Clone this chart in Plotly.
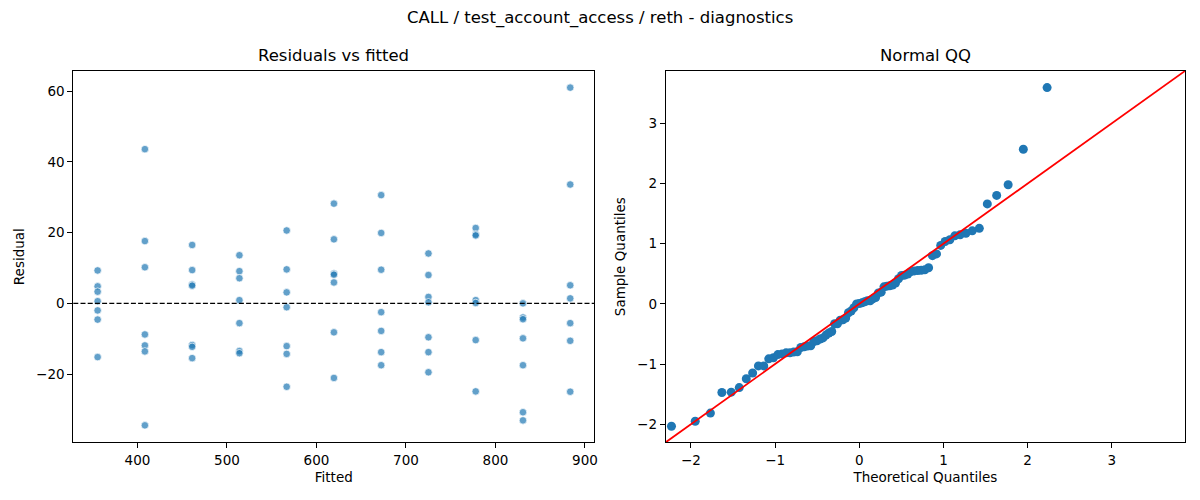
import plotly.graph_objects as go
from statistics import NormalDist
import math

# ---- data ----
fitted_levels = [355.5, 408.3, 461.1, 513.9, 566.7, 619.5, 672.3, 725.1, 777.9, 830.7, 883.5]
group_size = 7
residuals = [
    9.3, 4.8, 3.3, 0.6, -2.0, -4.6, -15.2,
    43.6, 17.6, 10.2, -8.8, -11.9, -13.6, -34.5,
    16.5, 9.4, 5.3, 5.0, -11.8, -12.3, -15.5,
    13.6, 9.1, 7.1, 0.9, -5.6, -13.5, -14.1,
    20.6, 9.6, 3.1, -1.1, -12.1, -14.3, -23.6,
    28.2, 18.1, 8.4, 8.1, 5.9, -8.2, -21.1,
    30.6, 19.9, 9.5, -2.5, -7.8, -13.8, -17.5,
    14.1, 8.0, 1.8, 0.3, -9.6, -13.8, -19.5,
    21.3, 19.5, 19.2, 0.9, 0.1, -10.4, -24.9,
    0.0, -4.0, -4.5, -9.9, -17.5, -30.8, -33.1,
    61.0, 33.6, 5.1, 1.4, -5.6, -10.6, -25.0,
]
left_xticks = [400, 500, 600, 700, 800, 900]
left_yticks = [-20, 0, 20, 40, 60]
qq_ticks = [-2, -1, 0, 1, 2, 3]
qq_range = [-2.30, 3.87]

fitted = [f for f in fitted_levels for _ in range(group_size)]

# ---- normal QQ (standardized residuals vs normal quantiles) ----
n = len(residuals)
mean = sum(residuals) / n
sd = math.sqrt(sum((r - mean) ** 2 for r in residuals) / n)
sample_q = sorted((r - mean) / sd for r in residuals)
nd = NormalDist()
theo_q = [nd.inv_cdf(i / (n + 1)) for i in range(1, n + 1)]

FONT = "DejaVu Sans"
blue = "#1f77b4"

# page body has an 8px margin; lay out in window pixels
OFF = 8
W, H = 1200 - OFF, 500 - OFF


def px(p):
    return (p - OFF) / W


def py(p):
    return 1 - (p - OFF) / H


fig = go.Figure()
fig.add_trace(go.Scatter(
    x=fitted, y=residuals, mode="markers", xaxis="x", yaxis="y",
    marker=dict(size=7.5, color="rgba(31,119,180,0.7)",
                line=dict(color="white", width=0.7)),
    showlegend=False, hoverinfo="x+y"))
fig.add_trace(go.Scatter(
    x=theo_q, y=sample_q, mode="markers", xaxis="x2", yaxis="y2",
    marker=dict(size=9, color=blue, line=dict(width=0)),
    showlegend=False))
fig.add_trace(go.Scatter(
    x=qq_range, y=qq_range, mode="lines", xaxis="x2", yaxis="y2",
    line=dict(color="red", width=1.8), showlegend=False, hoverinfo="skip"))

fig.add_shape(type="line", xref="x domain", yref="y", x0=0, x1=1, y0=0, y1=0,
              line=dict(color="black", width=1.1, dash="5px,2.2px"))

axis_common = dict(showline=True, linecolor="black", linewidth=1, mirror=True,
                   ticks="outside", ticklen=5, tickwidth=1, tickcolor="black",
                   showgrid=False, zeroline=False, automargin=False,
                   tickfont=dict(family=FONT, size=13.5, color="black"))

L1, R1, L2, R2, T, B = 73.3, 594.3, 665.7, 1185.0, 71.0, 442.3

fig.update_layout(
    width=W, height=H, autosize=False,
    margin=dict(l=0, r=0, t=0, b=0, autoexpand=False),
    paper_bgcolor="white", plot_bgcolor="white",
    font=dict(family=FONT, color="black"),
    xaxis=dict(domain=[px(L1), px(R1)], range=[328.3, 910.4],
               tickvals=left_xticks, anchor="y",
               title=dict(text="Fitted", font=dict(family=FONT, size=13.5), standoff=6),
               **axis_common),
    yaxis=dict(domain=[py(B), py(T)], range=[-39.3, 65.7],
               tickvals=left_yticks, anchor="x",
               title=dict(text="Residual", font=dict(family=FONT, size=13.5), standoff=8),
               **axis_common),
    xaxis2=dict(domain=[px(L2), px(R2)], range=qq_range,
                tickvals=qq_ticks, anchor="y2",
                title=dict(text="Theoretical Quantiles", font=dict(family=FONT, size=13.5), standoff=6),
                **axis_common),
    yaxis2=dict(domain=[py(B), py(T)], range=qq_range,
                tickvals=qq_ticks, anchor="x2",
                title=dict(text="Sample Quantiles", font=dict(family=FONT, size=13.5), standoff=8),
                **axis_common),
    annotations=[
        dict(text="CALL / test_account_access / reth - diagnostics", xref="paper", yref="paper",
             x=px(600), y=py(18), xanchor="center", yanchor="middle", showarrow=False,
             font=dict(family=FONT, size=16.5, color="black")),
        dict(text="Residuals vs fitted", xref="paper", yref="paper",
             x=px((L1 + R1) / 2), y=py(56), xanchor="center", yanchor="middle",
             showarrow=False, font=dict(family=FONT, size=16.5, color="black")),
        dict(text="Normal QQ", xref="paper", yref="paper",
             x=px((L2 + R2) / 2), y=py(56), xanchor="center", yanchor="middle",
             showarrow=False, font=dict(family=FONT, size=16.5, color="black")),
    ],
)

fig.write_html("out.html")
